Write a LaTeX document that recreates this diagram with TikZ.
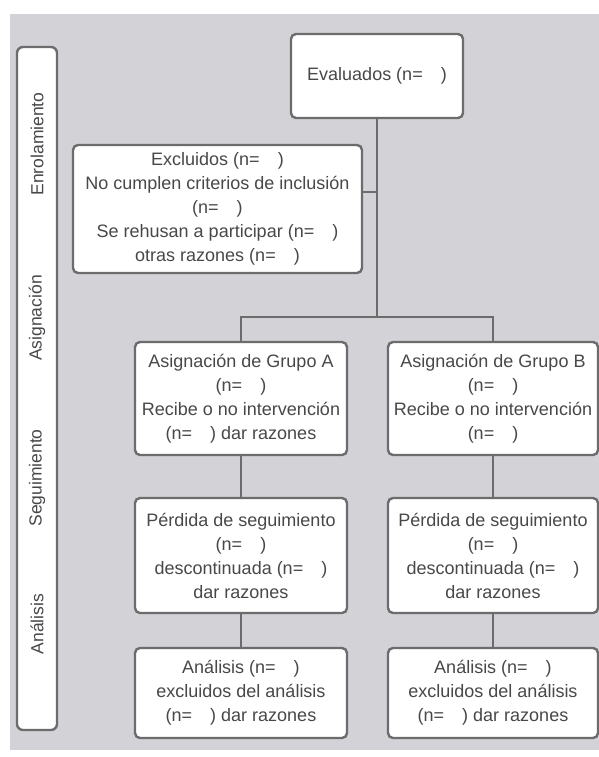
\documentclass[tikz,border=0pt]{standalone}
\usepackage{fontspec}
\setmainfont{Liberation Sans}
\definecolor{panel}{RGB}{210,210,215}
\definecolor{edge}{RGB}{108,108,108}
\definecolor{ink}{RGB}{72,72,72}
\begin{document}
\begin{tikzpicture}[x=1pt,y=-1pt,
  box/.style={draw=edge, line width=2.4pt, fill=white, rounded corners=5pt,
    align=center, text=ink, inner sep=0pt,
    font=\fontsize{18}{24}\selectfont},
  bar/.style={draw=edge, line width=2.4pt, fill=white, rounded corners=6pt, inner sep=0pt},
  lbl/.style={rotate=90, text=ink, font=\fontsize{17.5}{20}\selectfont},
  link/.style={draw=edge, line width=2pt}]
\useasboundingbox (0,0) rectangle (599,757);
\fill[white] (0,0) rectangle (599,757);
\fill[panel] (10,14) rectangle (599,750);

% left phase bar
\node[bar, minimum width=40pt, minimum height=683pt] (phase) at (37,388.5) {};
\node[lbl] (l1) at (37,144) {Enrolamiento};
\node[lbl] (l2) at (37,318) {Asignación};
\node[lbl] (l3) at (37,478) {Seguimiento};
\node[lbl] (l4) at (37,624) {Análisis};

% boxes
\node[box, minimum width=172pt, minimum height=84pt] (ev) at (377,76) {Evaluados (n=\quad)};
\node[box, minimum width=289pt, minimum height=128pt] (ex) at (217.5,209)
  {Excluidos (n=\quad)\\No cumplen criterios de inclusión\\(n=\quad)\\Se rehusan a participar (n=\quad)\\otras razones (n=\quad)};
\node[box, minimum width=212pt, minimum height=113pt] (ga) at (241,398.5)
  {Asignación de Grupo A\\(n=\quad)\\Recibe o no intervención\\(n=\quad) dar razones};
\node[box, minimum width=210pt, minimum height=113pt] (gb) at (493,398.5)
  {Asignación de Grupo B\\(n=\quad)\\Recibe o no intervención\\(n=\quad)};
\node[box, minimum width=212pt, minimum height=115pt] (pa) at (241,555.5)
  {Pérdida de seguimiento\\(n=\quad)\\descontinuada (n=\quad)\\dar razones};
\node[box, minimum width=210pt, minimum height=115pt] (pb) at (493,555.5)
  {Pérdida de seguimiento\\(n=\quad)\\descontinuada (n=\quad)\\dar razones};
\node[box, minimum width=212pt, minimum height=90pt] (aa) at (241,693)
  {Análisis (n=\quad)\\excluidos del análisis\\(n=\quad) dar razones};
\node[box, minimum width=210pt, minimum height=90pt] (ab) at (493,693)
  {Análisis (n=\quad)\\excluidos del análisis\\(n=\quad) dar razones};

% connectors
\coordinate (split) at (377,317);
\draw[link] (ev.south) -- (split);
\draw[link] ([yshift=17pt]ex.east) coordinate (exj) -- (exj -| split);
\draw[link] (ga.north) |- (split) -| (gb.north);
\draw[link] (ga.south) -- (pa.north);
\draw[link] (gb.south) -- (pb.north);
\draw[link] (pa.south) -- (aa.north);
\draw[link] (pb.south) -- (ab.north);
\end{tikzpicture}
\end{document}
